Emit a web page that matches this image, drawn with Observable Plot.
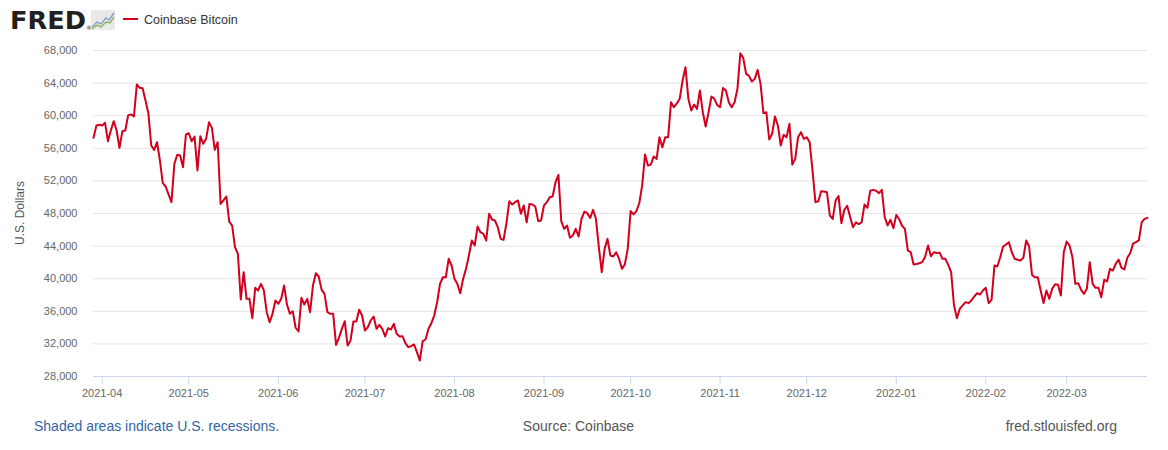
<!DOCTYPE html>
<html>
<head>
<meta charset="utf-8">
<script src="https://cdn.jsdelivr.net/npm/d3@7"></script>
<script src="https://cdn.jsdelivr.net/npm/@observablehq/plot@0.6"></script>
<style>
  html, body { margin: 0; padding: 0; background: #fff; }
  #wrap { position: relative; width: 1168px; height: 450px; overflow: hidden; font-family: "Liberation Sans", Arial, sans-serif; }
  #wrap svg { display: block; }
  #ylabel { position: absolute; left: 20px; top: 213px; transform: translate(-50%, -50%) rotate(-90deg); white-space: nowrap; font-size: 12px; color: #555; }
</style>
</head>
<body>
<div id="wrap">
  <svg id="header" width="1168" height="36">
    <text x="10" y="29" font-family="DejaVu Sans" font-weight="bold" font-size="25" fill="#231f20" textLength="76" lengthAdjust="spacingAndGlyphs">FRED</text>
    <text x="86" y="30" font-family="DejaVu Sans" font-size="6" fill="#231f20">®</text>
    <rect x="91" y="10" width="24" height="20" fill="#e9e9e9"></rect>
    <polyline points="92,27 97,22 101,24 106,18 109,20 114,13" fill="none" stroke="#7fa0c8" stroke-width="1.4"></polyline>
    <polyline points="92,29 97,25 101,27 106,22 110,23 114,17" fill="none" stroke="#8db25a" stroke-width="1.4"></polyline>
    <line x1="123" x2="138" y1="19" y2="19" stroke="#d2001e" stroke-width="2"></line>
    <text x="144" y="23.5" font-family="Liberation Sans, Arial, sans-serif" font-size="12.5" fill="#333">Coinbase Bitcoin</text>
  </svg>
  <div id="chart"></div>
  <div id="ylabel">U.S. Dollars</div>
  <svg id="footer" width="1168" height="44">
    <text x="34" y="24.5" font-family="Liberation Sans, Arial, sans-serif" font-size="14" fill="#3465a4">Shaded areas indicate U.S. recessions.</text>
    <text x="578.5" y="24.5" text-anchor="middle" font-family="Liberation Sans, Arial, sans-serif" font-size="14" fill="#555">Source: Coinbase</text>
    <text x="1117" y="24.5" text-anchor="end" font-family="Liberation Sans, Arial, sans-serif" font-size="14" fill="#555">fred.stlouisfed.org</text>
  </svg>
</div>
<script>
// Daily values (USD), grouped by month
const mar2021 = [57280, 58800, 58880]; // starts 2021-03-29
const apr2021 = [58800, 59130, 56870, 58180, 59330, 58180, 56050, 58100, 58180, 60040,
  60160, 59900, 63830, 63420, 63380, 61870, 60310, 56340, 55800, 56750,
  54500, 51720, 51310, 50330, 49390, 54090, 55200, 55120, 53680, 57690];
const may2021 = [57850, 56870, 57450, 53280, 57490, 56550, 57160, 59210, 58510, 55810,
  56750, 49180, 49600, 50090, 47000, 46530, 43870, 43050, 37450, 40800,
  37530, 37530, 35150, 38880, 38550, 39370, 38550, 35890, 34660, 35690, 37330];
const jun2021 = [36920, 37530, 39170, 36830, 35690, 36010, 33980, 33520, 37660, 36830,
  37530, 35890, 39170, 40680, 40270, 38630, 38140, 35890, 35690, 35690,
  31880, 32740, 33850, 34780, 31800, 32420, 34750, 34750, 36190, 35480];
const jul2021 = [33640, 34050, 34870, 35360, 33850, 34340, 33850, 32910, 33930, 33770,
  34460, 33240, 32910, 32950, 32090, 31600, 31720, 31930, 30990, 29960,
  32330, 32540, 33850, 34540, 35480, 37110, 39370, 40180, 40180, 42440, 41620];
const aug2021 = [39980, 39370, 38220, 39980, 41210, 42850, 44690, 44070, 46400, 45700,
  45500, 44690, 47960, 47260, 47140, 46320, 44890, 44770, 46810, 49510,
  49100, 49390, 49600, 47960, 48980, 46930, 49180, 49100, 48850, 47060, 47140];
const sep2021 = [48980, 49390, 50000, 50090, 51840, 52740, 47020, 46120, 46530, 45020,
  45300, 46120, 45180, 47350, 48240, 48040, 47460, 48450, 47350, 43870,
  40800, 43660, 44890, 42850, 42720, 43250, 42440, 41210, 41740, 43660];
const oct2021 = [48300, 47880, 48300, 49260, 51440, 55240, 53900, 54000, 55000, 54700,
  57360, 56130, 57370, 57370, 61660, 61050, 61500, 62070, 64320, 65950,
  62070, 60640, 61370, 60840, 63090, 60430, 58680, 60430, 62350, 62070, 61300];
const nov2021 = [61050, 63400, 63090, 61660, 61050, 61660, 63300, 67670, 67100, 65130,
  64890, 64190, 64520, 65620, 63910, 60310, 60430, 57080, 57780, 59900,
  58800, 56340, 57650, 57360, 59000, 54000, 54700, 57360, 57980, 57160];
const dec2021 = [57360, 56750, 53270, 49390, 49510, 50740, 50700, 50600, 47750, 47340,
  49600, 50150, 46810, 48450, 48950, 47600, 46320, 46900, 46700, 46900,
  49100, 48700, 50800, 50900, 50800, 50500, 50900, 47540, 46530, 47230, 46200];
const jan2022 = [47830, 47300, 46500, 46120, 43460, 43250, 41740, 41800, 41900, 42030,
  42700, 44070, 42760, 43250, 43150, 43200, 42440, 42440, 41700, 40800,
  36700, 35150, 36310, 36720, 37120, 37000, 37330, 37820, 38220, 38060, 38550];
const feb2022 = [38880, 37000, 37410, 41620, 41500, 42640, 43950, 44200, 44480, 43250,
  42440, 42320, 42230, 42560, 44690, 43950, 40480, 40190, 40190, 38550,
  37000, 38550, 37530, 38760, 39320, 39250, 37940, 43250];
const mar2022 = [44560, 44070, 42640, 39370, 39450, 38630, 38140, 38760, 42030, 39370,
  38880, 38880, 37730, 39860, 39660, 41210, 41000, 41820, 42350, 41330,
  41130, 42560, 43130, 44300, 44480, 44690, 46930, 47340, 47460];

const seriesName = "Coinbase Bitcoin";
const startDate = "2021-03-29";
const endDate = "2022-03-29";
const yTicks = [28000, 32000, 36000, 40000, 44000, 48000, 52000, 56000, 60000, 64000, 68000];
const monthTicks = ["2021-04", "2021-05", "2021-06", "2021-07", "2021-08", "2021-09",
  "2021-10", "2021-11", "2021-12", "2022-01", "2022-02", "2022-03"];

// Build a daily table from the monthly arrays
const allValues = [].concat(mar2021, apr2021, may2021, jun2021, jul2021, aug2021,
  sep2021, oct2021, nov2021, dec2021, jan2022, feb2022, mar2022);
const t0 = d3.utcParse("%Y-%m-%d")(startDate);
const data = allValues.map((v, i) => ({date: d3.utcDay.offset(t0, i), value: v}));
const tickDates = monthTicks.map(d3.utcParse("%Y-%m"));

const chart = Plot.plot({
  width: 1168,
  height: 370,
  marginLeft: 93,
  marginRight: 21,
  marginTop: 14,
  marginBottom: 30,
  style: {fontFamily: "Liberation Sans, Arial, sans-serif", fontSize: "11px", background: "transparent", overflow: "visible"},
  x: {type: "utc", domain: [t0, d3.utcParse("%Y-%m-%d")(endDate)]},
  y: {domain: [28000, 68000]},
  marks: [
    Plot.gridY(yTicks, {stroke: "#e3e3e3", strokeOpacity: 1}),
    Plot.axisY(yTicks, {tickSize: 0, tickPadding: 16, tickFormat: d3.format(","), label: null, fill: "#666", fontSize: 11}),
    Plot.ruleY([28000], {stroke: "#ccd6eb"}),
    Plot.axisX(tickDates, {tickSize: 8, tickPadding: 5, tickFormat: d3.utcFormat("%Y-%m"), stroke: "#ccd6eb", strokeOpacity: 1, fill: "#666", label: null, fontSize: 11}),
    Plot.lineY(data, {x: "date", y: "value", stroke: "#d2001e", strokeWidth: 2, title: () => seriesName})
  ]
});
document.getElementById("chart").appendChild(chart);
</script>
</body>
</html>
